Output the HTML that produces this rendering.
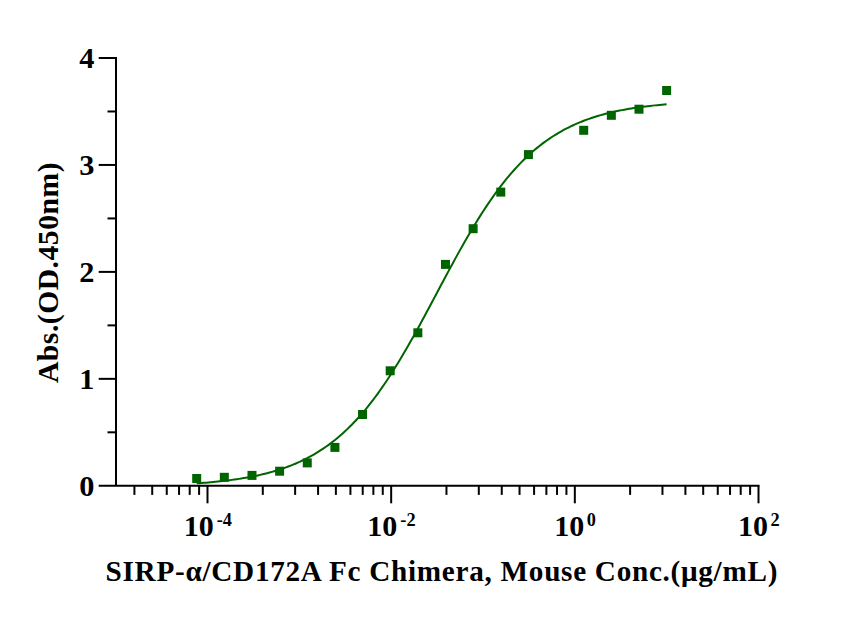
<!DOCTYPE html>
<html><head><meta charset="utf-8"><style>
html,body{margin:0;padding:0;background:#fff;}
body{width:848px;height:619px;overflow:hidden;}
svg{display:block;}
text{font-family:"Liberation Serif",serif;font-weight:bold;fill:#000;}
</style></head><body>
<svg width="848" height="619" viewBox="0 0 848 619">
<rect width="848" height="619" fill="#fff"/>
<line x1="116" y1="57" x2="116" y2="485.8" stroke="#000" stroke-width="2"/>
<line x1="98.7" y1="485.8" x2="759.5" y2="485.8" stroke="#000" stroke-width="2.1"/>
<line x1="98.7" y1="378.85" x2="117" y2="378.85" stroke="#000" stroke-width="2"/>
<line x1="98.7" y1="271.90" x2="117" y2="271.90" stroke="#000" stroke-width="2"/>
<line x1="98.7" y1="164.95" x2="117" y2="164.95" stroke="#000" stroke-width="2"/>
<line x1="98.7" y1="58.00" x2="117" y2="58.00" stroke="#000" stroke-width="2"/>
<line x1="107.5" y1="432.32" x2="117" y2="432.32" stroke="#000" stroke-width="2"/>
<line x1="107.5" y1="325.38" x2="117" y2="325.38" stroke="#000" stroke-width="2"/>
<line x1="107.5" y1="218.43" x2="117" y2="218.43" stroke="#000" stroke-width="2"/>
<line x1="107.5" y1="111.48" x2="117" y2="111.48" stroke="#000" stroke-width="2"/>
<line x1="207.50" y1="485.8" x2="207.50" y2="503.3" stroke="#000" stroke-width="2"/>
<line x1="391.17" y1="485.8" x2="391.17" y2="503.3" stroke="#000" stroke-width="2"/>
<line x1="574.83" y1="485.8" x2="574.83" y2="503.3" stroke="#000" stroke-width="2"/>
<line x1="758.50" y1="485.8" x2="758.50" y2="503.3" stroke="#000" stroke-width="2"/>
<line x1="134.41" y1="485.8" x2="134.41" y2="494.9" stroke="#000" stroke-width="2"/>
<line x1="152.21" y1="485.8" x2="152.21" y2="494.9" stroke="#000" stroke-width="2"/>
<line x1="166.75" y1="485.8" x2="166.75" y2="494.9" stroke="#000" stroke-width="2"/>
<line x1="179.05" y1="485.8" x2="179.05" y2="494.9" stroke="#000" stroke-width="2"/>
<line x1="189.70" y1="485.8" x2="189.70" y2="494.9" stroke="#000" stroke-width="2"/>
<line x1="199.10" y1="485.8" x2="199.10" y2="494.9" stroke="#000" stroke-width="2"/>
<line x1="262.79" y1="485.8" x2="262.79" y2="494.9" stroke="#000" stroke-width="2"/>
<line x1="295.13" y1="485.8" x2="295.13" y2="494.9" stroke="#000" stroke-width="2"/>
<line x1="318.08" y1="485.8" x2="318.08" y2="494.9" stroke="#000" stroke-width="2"/>
<line x1="335.88" y1="485.8" x2="335.88" y2="494.9" stroke="#000" stroke-width="2"/>
<line x1="350.42" y1="485.8" x2="350.42" y2="494.9" stroke="#000" stroke-width="2"/>
<line x1="362.72" y1="485.8" x2="362.72" y2="494.9" stroke="#000" stroke-width="2"/>
<line x1="373.37" y1="485.8" x2="373.37" y2="494.9" stroke="#000" stroke-width="2"/>
<line x1="382.76" y1="485.8" x2="382.76" y2="494.9" stroke="#000" stroke-width="2"/>
<line x1="446.46" y1="485.8" x2="446.46" y2="494.9" stroke="#000" stroke-width="2"/>
<line x1="478.80" y1="485.8" x2="478.80" y2="494.9" stroke="#000" stroke-width="2"/>
<line x1="501.75" y1="485.8" x2="501.75" y2="494.9" stroke="#000" stroke-width="2"/>
<line x1="519.54" y1="485.8" x2="519.54" y2="494.9" stroke="#000" stroke-width="2"/>
<line x1="534.09" y1="485.8" x2="534.09" y2="494.9" stroke="#000" stroke-width="2"/>
<line x1="546.38" y1="485.8" x2="546.38" y2="494.9" stroke="#000" stroke-width="2"/>
<line x1="557.03" y1="485.8" x2="557.03" y2="494.9" stroke="#000" stroke-width="2"/>
<line x1="566.43" y1="485.8" x2="566.43" y2="494.9" stroke="#000" stroke-width="2"/>
<line x1="630.12" y1="485.8" x2="630.12" y2="494.9" stroke="#000" stroke-width="2"/>
<line x1="662.46" y1="485.8" x2="662.46" y2="494.9" stroke="#000" stroke-width="2"/>
<line x1="685.41" y1="485.8" x2="685.41" y2="494.9" stroke="#000" stroke-width="2"/>
<line x1="703.21" y1="485.8" x2="703.21" y2="494.9" stroke="#000" stroke-width="2"/>
<line x1="717.75" y1="485.8" x2="717.75" y2="494.9" stroke="#000" stroke-width="2"/>
<line x1="730.05" y1="485.8" x2="730.05" y2="494.9" stroke="#000" stroke-width="2"/>
<line x1="740.70" y1="485.8" x2="740.70" y2="494.9" stroke="#000" stroke-width="2"/>
<line x1="750.10" y1="485.8" x2="750.10" y2="494.9" stroke="#000" stroke-width="2"/>
<path d="M196.69,483.35 L199.04,483.19 L201.39,483.02 L203.74,482.83 L206.09,482.64 L208.44,482.44 L210.79,482.24 L213.14,482.02 L215.49,481.79 L217.84,481.55 L220.19,481.31 L222.54,481.05 L224.89,480.78 L227.24,480.49 L229.58,480.19 L231.93,479.88 L234.28,479.56 L236.63,479.22 L238.98,478.87 L241.33,478.50 L243.68,478.11 L246.03,477.71 L248.38,477.29 L250.73,476.85 L253.08,476.39 L255.43,475.91 L257.78,475.41 L260.13,474.88 L262.48,474.34 L264.83,473.77 L267.18,473.17 L269.53,472.55 L271.88,471.91 L274.23,471.23 L276.58,470.53 L278.93,469.79 L281.28,469.03 L283.63,468.23 L285.98,467.40 L288.33,466.53 L290.68,465.63 L293.03,464.68 L295.38,463.71 L297.73,462.69 L300.08,461.62 L302.43,460.52 L304.78,459.37 L307.13,458.18 L309.47,456.93 L311.82,455.64 L314.17,454.30 L316.52,452.91 L318.87,451.46 L321.22,449.96 L323.57,448.40 L325.92,446.78 L328.27,445.10 L330.62,443.36 L332.97,441.56 L335.32,439.70 L337.67,437.77 L340.02,435.77 L342.37,433.70 L344.72,431.56 L347.07,429.36 L349.42,427.08 L351.77,424.72 L354.12,422.30 L356.47,419.80 L358.82,417.22 L361.17,414.56 L363.52,411.83 L365.87,409.02 L368.22,406.14 L370.57,403.17 L372.92,400.13 L375.27,397.01 L377.62,393.81 L379.97,390.54 L382.32,387.19 L384.67,383.76 L387.02,380.26 L389.36,376.69 L391.71,373.04 L394.06,369.33 L396.41,365.55 L398.76,361.71 L401.11,357.80 L403.46,353.83 L405.81,349.81 L408.16,345.73 L410.51,341.60 L412.86,337.42 L415.21,333.20 L417.56,328.94 L419.91,324.65 L422.26,320.32 L424.61,315.96 L426.96,311.58 L429.31,307.19 L431.66,302.78 L434.01,298.35 L436.36,293.93 L438.71,289.50 L441.06,285.08 L443.41,280.66 L445.76,276.26 L448.11,271.88 L450.46,267.52 L452.81,263.18 L455.16,258.88 L457.51,254.61 L459.86,250.38 L462.21,246.20 L464.56,242.06 L466.91,237.97 L469.25,233.93 L471.60,229.95 L473.95,226.03 L476.30,222.17 L478.65,218.38 L481.00,214.65 L483.35,210.99 L485.70,207.40 L488.05,203.88 L490.40,200.44 L492.75,197.08 L495.10,193.78 L497.45,190.57 L499.80,187.43 L502.15,184.37 L504.50,181.39 L506.85,178.49 L509.20,175.66 L511.55,172.91 L513.90,170.24 L516.25,167.65 L518.60,165.13 L520.95,162.68 L523.30,160.32 L525.65,158.02 L528.00,155.80 L530.35,153.65 L532.70,151.56 L535.05,149.55 L537.40,147.61 L539.75,145.73 L542.10,143.91 L544.45,142.16 L546.80,140.47 L549.14,138.84 L551.49,137.26 L553.84,135.75 L556.19,134.29 L558.54,132.88 L560.89,131.53 L563.24,130.23 L565.59,128.98 L567.94,127.77 L570.29,126.61 L572.64,125.50 L574.99,124.43 L577.34,123.40 L579.69,122.41 L582.04,121.46 L584.39,120.55 L586.74,119.68 L589.09,118.84 L591.44,118.03 L593.79,117.26 L596.14,116.52 L598.49,115.81 L600.84,115.12 L603.19,114.47 L605.54,113.84 L607.89,113.24 L610.24,112.67 L612.59,112.12 L614.94,111.59 L617.29,111.08 L619.64,110.60 L621.99,110.13 L624.34,109.69 L626.69,109.26 L629.03,108.86 L631.38,108.47 L633.73,108.09 L636.08,107.74 L638.43,107.40 L640.78,107.07 L643.13,106.76 L645.48,106.46 L647.83,106.17 L650.18,105.90 L652.53,105.63 L654.88,105.38 L657.23,105.14 L659.58,104.91 L661.93,104.69 L664.28,104.48 L666.63,104.28" fill="none" stroke="#006400" stroke-width="2.0" stroke-linejoin="round"/>
<rect x="662.13" y="86.00" width="9" height="9" fill="#006400"/>
<rect x="634.49" y="104.70" width="9" height="9" fill="#006400"/>
<rect x="606.84" y="110.80" width="9" height="9" fill="#006400"/>
<rect x="579.20" y="125.80" width="9" height="9" fill="#006400"/>
<rect x="523.91" y="150.10" width="9" height="9" fill="#006400"/>
<rect x="496.27" y="187.60" width="9" height="9" fill="#006400"/>
<rect x="468.62" y="224.20" width="9" height="9" fill="#006400"/>
<rect x="440.98" y="259.90" width="9" height="9" fill="#006400"/>
<rect x="413.34" y="328.30" width="9" height="9" fill="#006400"/>
<rect x="385.69" y="366.30" width="9" height="9" fill="#006400"/>
<rect x="358.05" y="410.00" width="9" height="9" fill="#006400"/>
<rect x="330.41" y="442.90" width="9" height="9" fill="#006400"/>
<rect x="302.76" y="458.40" width="9" height="9" fill="#006400"/>
<rect x="275.12" y="466.70" width="9" height="9" fill="#006400"/>
<rect x="247.48" y="470.90" width="9" height="9" fill="#006400"/>
<rect x="219.83" y="472.80" width="9" height="9" fill="#006400"/>
<rect x="192.19" y="474.00" width="9" height="9" fill="#006400"/>
<text x="94.3" y="495.70" text-anchor="end" font-size="30.3">0</text>
<text x="94.3" y="388.75" text-anchor="end" font-size="30.3">1</text>
<text x="94.3" y="281.80" text-anchor="end" font-size="30.3">2</text>
<text x="94.3" y="174.85" text-anchor="end" font-size="30.3">3</text>
<text x="94.3" y="67.90" text-anchor="end" font-size="30.3">4</text>
<text x="207.80" y="535.8" text-anchor="middle" font-size="30">10<tspan font-size="18.3" dx="3.0" dy="-9.6">-4</tspan></text>
<text x="391.47" y="535.8" text-anchor="middle" font-size="30">10<tspan font-size="18.3" dx="3.0" dy="-9.6">-2</tspan></text>
<text x="575.13" y="535.8" text-anchor="middle" font-size="30">10<tspan font-size="18.3" dx="2.5" dy="-9.6">0</tspan></text>
<text x="758.80" y="535.8" text-anchor="middle" font-size="30">10<tspan font-size="18.3" dx="2.5" dy="-9.6">2</tspan></text>
<text x="105.6" y="581.4" font-size="29.2" textLength="671.8" lengthAdjust="spacing">SIRP-α/CD172A Fc Chimera, Mouse Conc.(μg/mL)</text>
<text transform="translate(57.6,383.0) rotate(-90)" font-size="29.6" textLength="220.5" lengthAdjust="spacing">Abs.(OD.450nm)</text>
</svg>
</body></html>
